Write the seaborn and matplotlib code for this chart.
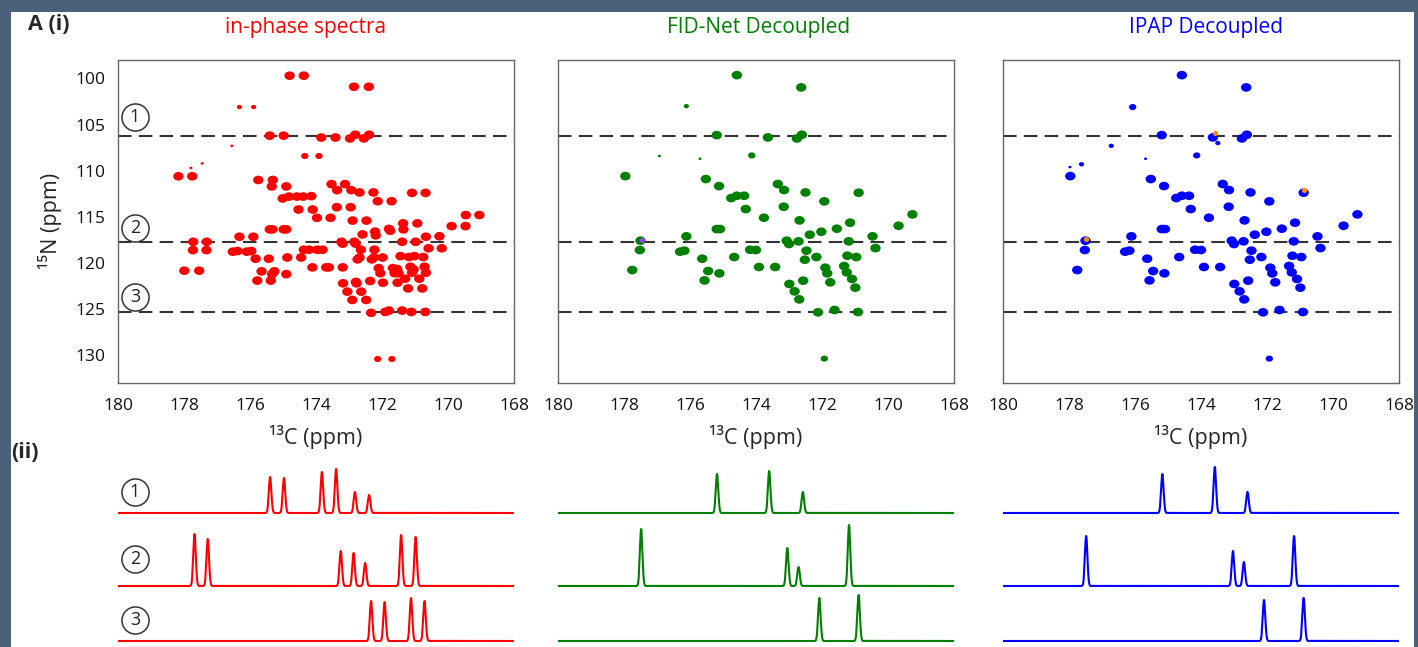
import numpy as np
import pandas as pd
import matplotlib
matplotlib.use("Agg")
import matplotlib.pyplot as plt
import seaborn as sns
from matplotlib.path import Path
from matplotlib.transforms import Affine2D
from matplotlib.patches import Rectangle

# ---- 2D peak lists (13C ppm, 15N ppm, marker size class) ----
red_c = [174.80, 174.37, 172.85, 172.40, 176.32, 175.89, 175.40, 174.98, 173.84, 173.41,
         172.97, 172.81, 172.55, 172.39, 176.55, 174.34, 173.91, 177.79, 177.45, 178.17,
         177.75, 175.75, 175.31, 175.34, 174.90, 175.01, 174.82, 174.58, 174.39, 174.14,
         174.53, 174.10, 173.53, 173.36, 173.12, 172.93, 172.68, 172.26, 172.13, 171.71,
         171.09, 170.68, 173.37, 172.95, 173.97, 173.56, 172.89, 172.47, 169.46, 169.05,
         169.89, 169.47, 175.40, 175.32, 174.98, 174.90, 172.21, 172.19, 171.79, 171.75,
         171.36, 171.35, 170.93, 172.59, 170.26, 170.19, 170.67, 170.59, 176.32, 175.90,
         177.72, 177.31, 177.73, 177.32, 173.23, 172.84, 173.19, 172.80, 171.39, 170.98,
         176.52, 176.38, 176.10, 175.96, 174.37, 174.21, 173.96, 173.80, 172.64, 172.23,
         172.68, 172.24, 172.74, 172.31, 171.98, 171.44, 171.02, 171.18, 170.75, 175.43,
         175.83, 174.87, 174.45, 177.99, 177.54, 174.11, 173.69, 173.61, 173.19, 172.10,
         172.05, 171.67, 171.62, 171.54, 171.50, 171.14, 171.09, 171.04, 170.71, 170.67,
         175.65, 175.26, 175.33, 174.90, 175.78, 175.37, 173.18, 172.77, 172.79, 172.36,
         171.97, 171.53, 171.30, 170.87, 171.21, 170.78, 173.05, 172.63, 172.90, 172.48,
         172.33, 171.90, 171.79, 171.39, 171.11, 170.69, 172.13, 171.70]
red_n = [99.7, 99.7, 100.9, 100.9, 103.1, 103.1, 106.2, 106.2, 106.4, 106.4,
         106.5, 106.1, 106.5, 106.1, 107.3, 108.4, 108.4, 109.7, 109.2, 110.6,
         110.6, 111.0, 111.0, 111.7, 111.7, 113.0, 112.8, 112.8, 112.8, 112.75,
         114.2, 114.2, 111.45, 112.1, 111.45, 112.1, 112.35, 112.35, 113.3, 113.3,
         112.4, 112.4, 113.95, 113.95, 115.1, 115.1, 115.4, 115.4, 114.8, 114.8,
         116.0, 116.0, 116.35, 116.35, 116.35, 116.35, 116.6, 117.0, 116.3, 116.5,
         115.7, 116.35, 115.7, 116.9, 117.1, 118.4, 117.15, 118.4, 117.15, 117.15,
         117.7, 117.7, 118.6, 118.6, 117.7, 117.7, 117.9, 117.9, 117.7, 117.7,
         118.77, 118.7, 118.77, 118.7, 118.56, 118.56, 118.56, 118.56, 118.56, 118.56,
         119.4, 119.4, 119.6, 119.6, 119.4, 119.25, 119.25, 119.35, 119.35, 119.53,
         119.53, 119.4, 119.4, 120.83, 120.83, 120.47, 120.47, 120.47, 120.47, 120.55,
         121.1, 120.55, 121.1, 120.65, 121.1, 120.4, 121.05, 120.7, 120.4, 121.05,
         120.9, 120.9, 121.2, 121.2, 121.9, 121.9, 122.2, 122.2, 122.05, 121.95,
         122.13, 122.13, 121.7, 121.7, 122.75, 122.75, 123.1, 123.1, 124.0, 124.0,
         125.4, 125.3, 125.15, 125.15, 125.3, 125.3, 130.4, 130.4]
red_size = ["L"] * len(red_c)
for i in (4, 5):
    red_size[i] = "S"
for i in (14, 17, 18):
    red_size[i] = "T"
for i in (15, 16, 146, 147):
    red_size[i] = "M"

# decoupled peaks common to FID-Net and IPAP
dec_c = [174.58, 172.63, 175.19, 173.64, 172.76, 172.61, 174.13, 177.96, 175.52, 175.12,
         173.34, 173.15, 172.50, 170.89, 174.75, 174.58, 174.36, 171.93, 174.31, 173.16,
         173.76, 172.68, 169.26, 169.68, 171.15, 175.19, 175.09, 176.11, 172.37, 172.02,
         171.55, 170.47, 170.38, 177.50, 177.52, 173.07, 173.00, 172.71, 171.19, 176.30,
         176.17, 174.18, 174.00, 172.47, 172.52, 172.17, 174.66, 175.63, 171.23, 170.96,
         177.75, 175.45, 173.91, 173.42, 171.90, 171.84, 171.33, 171.25, 175.11, 175.56,
         172.99, 172.57, 171.75, 171.09, 170.99, 172.83, 172.69, 172.12, 171.62, 170.91,
         171.93]
dec_n = [99.64, 100.97, 106.14, 106.39, 106.5, 106.1, 108.34, 110.58, 110.9, 111.66,
         111.44, 112.09, 112.35, 112.38, 112.96, 112.71, 112.71, 113.32, 114.15, 113.9,
         115.09, 115.38, 114.73, 115.96, 115.63, 116.32, 116.32, 117.11, 116.93, 116.61,
         116.28, 117.11, 118.38, 117.58, 118.59, 117.58, 117.94, 117.65, 117.65, 118.77,
         118.66, 118.56, 118.59, 118.66, 119.64, 119.35, 119.35, 119.53, 119.21, 119.35,
         120.76, 120.87, 120.43, 120.43, 120.51, 121.12, 120.32, 121.01, 121.12, 121.88,
         122.27, 121.91, 122.09, 121.73, 122.67, 123.07, 123.94, 125.34, 125.09, 125.31,
         130.36]
dec_size = ["L"] * len(dec_c)
dec_size[6] = "M"
dec_size[-1] = "M"

fid_extra_c = [176.11, 176.93, 175.70]
fid_extra_n = [103.0, 108.4, 108.7]
fid_extra_size = ["S", "T", "T"]

ipap_extra_c = [176.07, 176.72, 175.68, 177.97, 177.62, 173.49]
ipap_extra_n = [103.1, 107.3, 108.7, 109.6, 109.3, 107.0]
ipap_extra_size = ["M", "S", "T", "T", "S", "S"]

# small overlaid dots
fid_dot_c, fid_dot_n = [177.45], [117.5]
ipap_dot_c, ipap_dot_n = [173.58, 170.87, 177.48], [105.9, 112.1, 117.35]

# 15N positions of the three 1D slices
slice_n = [106.2, 117.7, 125.3]

# ---- 1D slices: (13C ppm, height) for slices 1, 2, 3 ----
inphase_peaks = [
    [(175.39, 36), (174.97, 35), (173.82, 41), (173.39, 44), (172.82, 21), (172.39, 18)],
    [(177.68, 52), (177.28, 47), (173.25, 35), (172.86, 33), (172.51, 23), (171.42, 51), (170.98, 49)],
    [(172.33, 40), (171.92, 39), (171.12, 43), (170.71, 40)],
]
fid_peaks = [
    [(175.18, 39), (173.60, 42), (172.58, 21)],
    [(177.48, 57), (173.05, 38), (172.71, 19), (171.18, 61)],
    [(172.08, 43), (170.89, 46)],
]
ipap_peaks = [
    [(175.17, 39), (173.58, 46), (172.59, 21)],
    [(177.48, 50), (173.03, 35), (172.70, 24), (171.18, 50)],
    [(172.09, 41), (170.89, 43)],
]

titles = ["in-phase spectra", "FID-Net Decoupled", "IPAP Decoupled"]
colors = ["#ff0000", "#008000", "#0000ff"]

# ---- style ----
sns.set_style("white")
plt.rcParams["font.family"] = ["Open Sans", "DejaVu Sans"]

W, H = 1418, 647
fig = plt.figure(figsize=(W / 100, H / 100), dpi=100)
fig.patch.set_facecolor("#4b617a")
fig.patches.append(Rectangle((11 / W, 0), (1414 - 11) / W, (H - 12) / H,
                             transform=fig.transFigure, fc="white", ec="none", zorder=-10))

ell = Path.unit_circle().transformed(Affine2D().scale(1.2, 1.0))
size_map = {"L": 56, "M": 28, "S": 14, "T": 5}

lefts = [118, 558, 1003]
title_x = [306, 759, 1206]
point_sets = [
    (red_c, red_n, red_size),
    (dec_c + fid_extra_c, dec_n + fid_extra_n, dec_size + fid_extra_size),
    (dec_c + ipap_extra_c, dec_n + ipap_extra_n, dec_size + ipap_extra_size),
]
peak_sets = [inphase_peaks, fid_peaks, ipap_peaks]
baselines = [134, 61, 6]
grid = np.linspace(168, 180, 3000)
sig = 0.038

for k in range(3):
    ax = fig.add_axes([lefts[k] / W, 1 - 383 / H, 396 / W, 323 / H])
    c, n, sz = point_sets[k]
    df = pd.DataFrame({"c": c, "n": n, "sz": sz})
    sns.scatterplot(data=df, x="c", y="n", size="sz", sizes=size_map, ax=ax,
                    color=colors[k], marker=ell, linewidth=0, legend=False, zorder=3)
    if k == 1:
        ax.scatter(fid_dot_c, fid_dot_n, s=14, color="#a040ff", linewidth=0, zorder=4)
    if k == 2:
        ax.scatter(ipap_dot_c, ipap_dot_n, s=14, color="#ff8c00", linewidth=0, zorder=4)
    for y in slice_n:
        ax.axhline(y, color="#333333", lw=1.5, ls=(0, (6.5, 3.5)), zorder=2)
    ax.set_xlim(180, 168)
    ax.set_ylim(133, 98)
    ax.set_xticks(np.arange(180, 167, -2))
    ax.set_yticks(np.arange(100, 131, 5))
    ax.tick_params(direction="out", length=5, width=1, color="#333333",
                   labelsize=12.5, labelcolor="#111111", pad=4)
    ax.tick_params(axis="x", pad=6)
    if k > 0:
        ax.set_yticklabels([])
    for sp in ax.spines.values():
        sp.set_color("#666666")
        sp.set_linewidth(1)
    ax.set_xlabel("¹³C (ppm)", fontsize=15.5, labelpad=8)
    ax.set_ylabel("")
    if k == 0:
        for i, yf in enumerate([0.824, 0.481, 0.267]):
            ax.plot([0.043], [yf], marker="o", ms=19.5, mfc="none", mec="#333333",
                    mew=1.1, transform=ax.transAxes, clip_on=False)
            ax.text(0.043, yf, str(i + 1), transform=ax.transAxes, ha="center",
                    va="center", fontsize=13, color="#222222")
    fig.text(title_x[k] / W, 1 - 28 / H, titles[k], color=colors[k], fontsize=15,
             ha="center", va="center")

    # 1D slices
    tx = fig.add_axes([lefts[k] / W, 0, 396 / W, 192 / H])
    for r in range(3):
        yv = np.full_like(grid, float(baselines[r]))
        for pc, ph in peak_sets[k][r]:
            yv += ph * np.exp(-0.5 * ((grid - pc) / sig) ** 2)
        sns.lineplot(x=grid, y=yv, ax=tx, color=colors[k], lw=1.5,
                     estimator=None, sort=False)
    tx.set_xlim(180, 168)
    tx.set_ylim(0, 192)
    tx.axis("off")
    if k == 0:
        for i, yv0 in enumerate([155.3, 88, 27]):
            tx.plot([0.043], [yv0 / 192], marker="o", ms=19.5, mfc="none", mec="#333333",
                    mew=1.1, transform=tx.transAxes, clip_on=False)
            tx.text(0.043, yv0 / 192, str(i + 1), transform=tx.transAxes, ha="center",
                    va="center", fontsize=13, color="#222222")

fig.text(50 / W, 1 - 221 / H, "¹⁵N (ppm)", rotation=90, fontsize=15.5,
         ha="center", va="center")
fig.text(28 / W, 1 - 25 / H, "A (i)", fontsize=15.5, fontweight="bold", ha="left", va="center")
fig.text(11 / W, 1 - 453 / H, "(ii)", fontsize=15.5, fontweight="bold", ha="left", va="center")

fig.savefig("out.png", dpi=100, facecolor=fig.get_facecolor())
